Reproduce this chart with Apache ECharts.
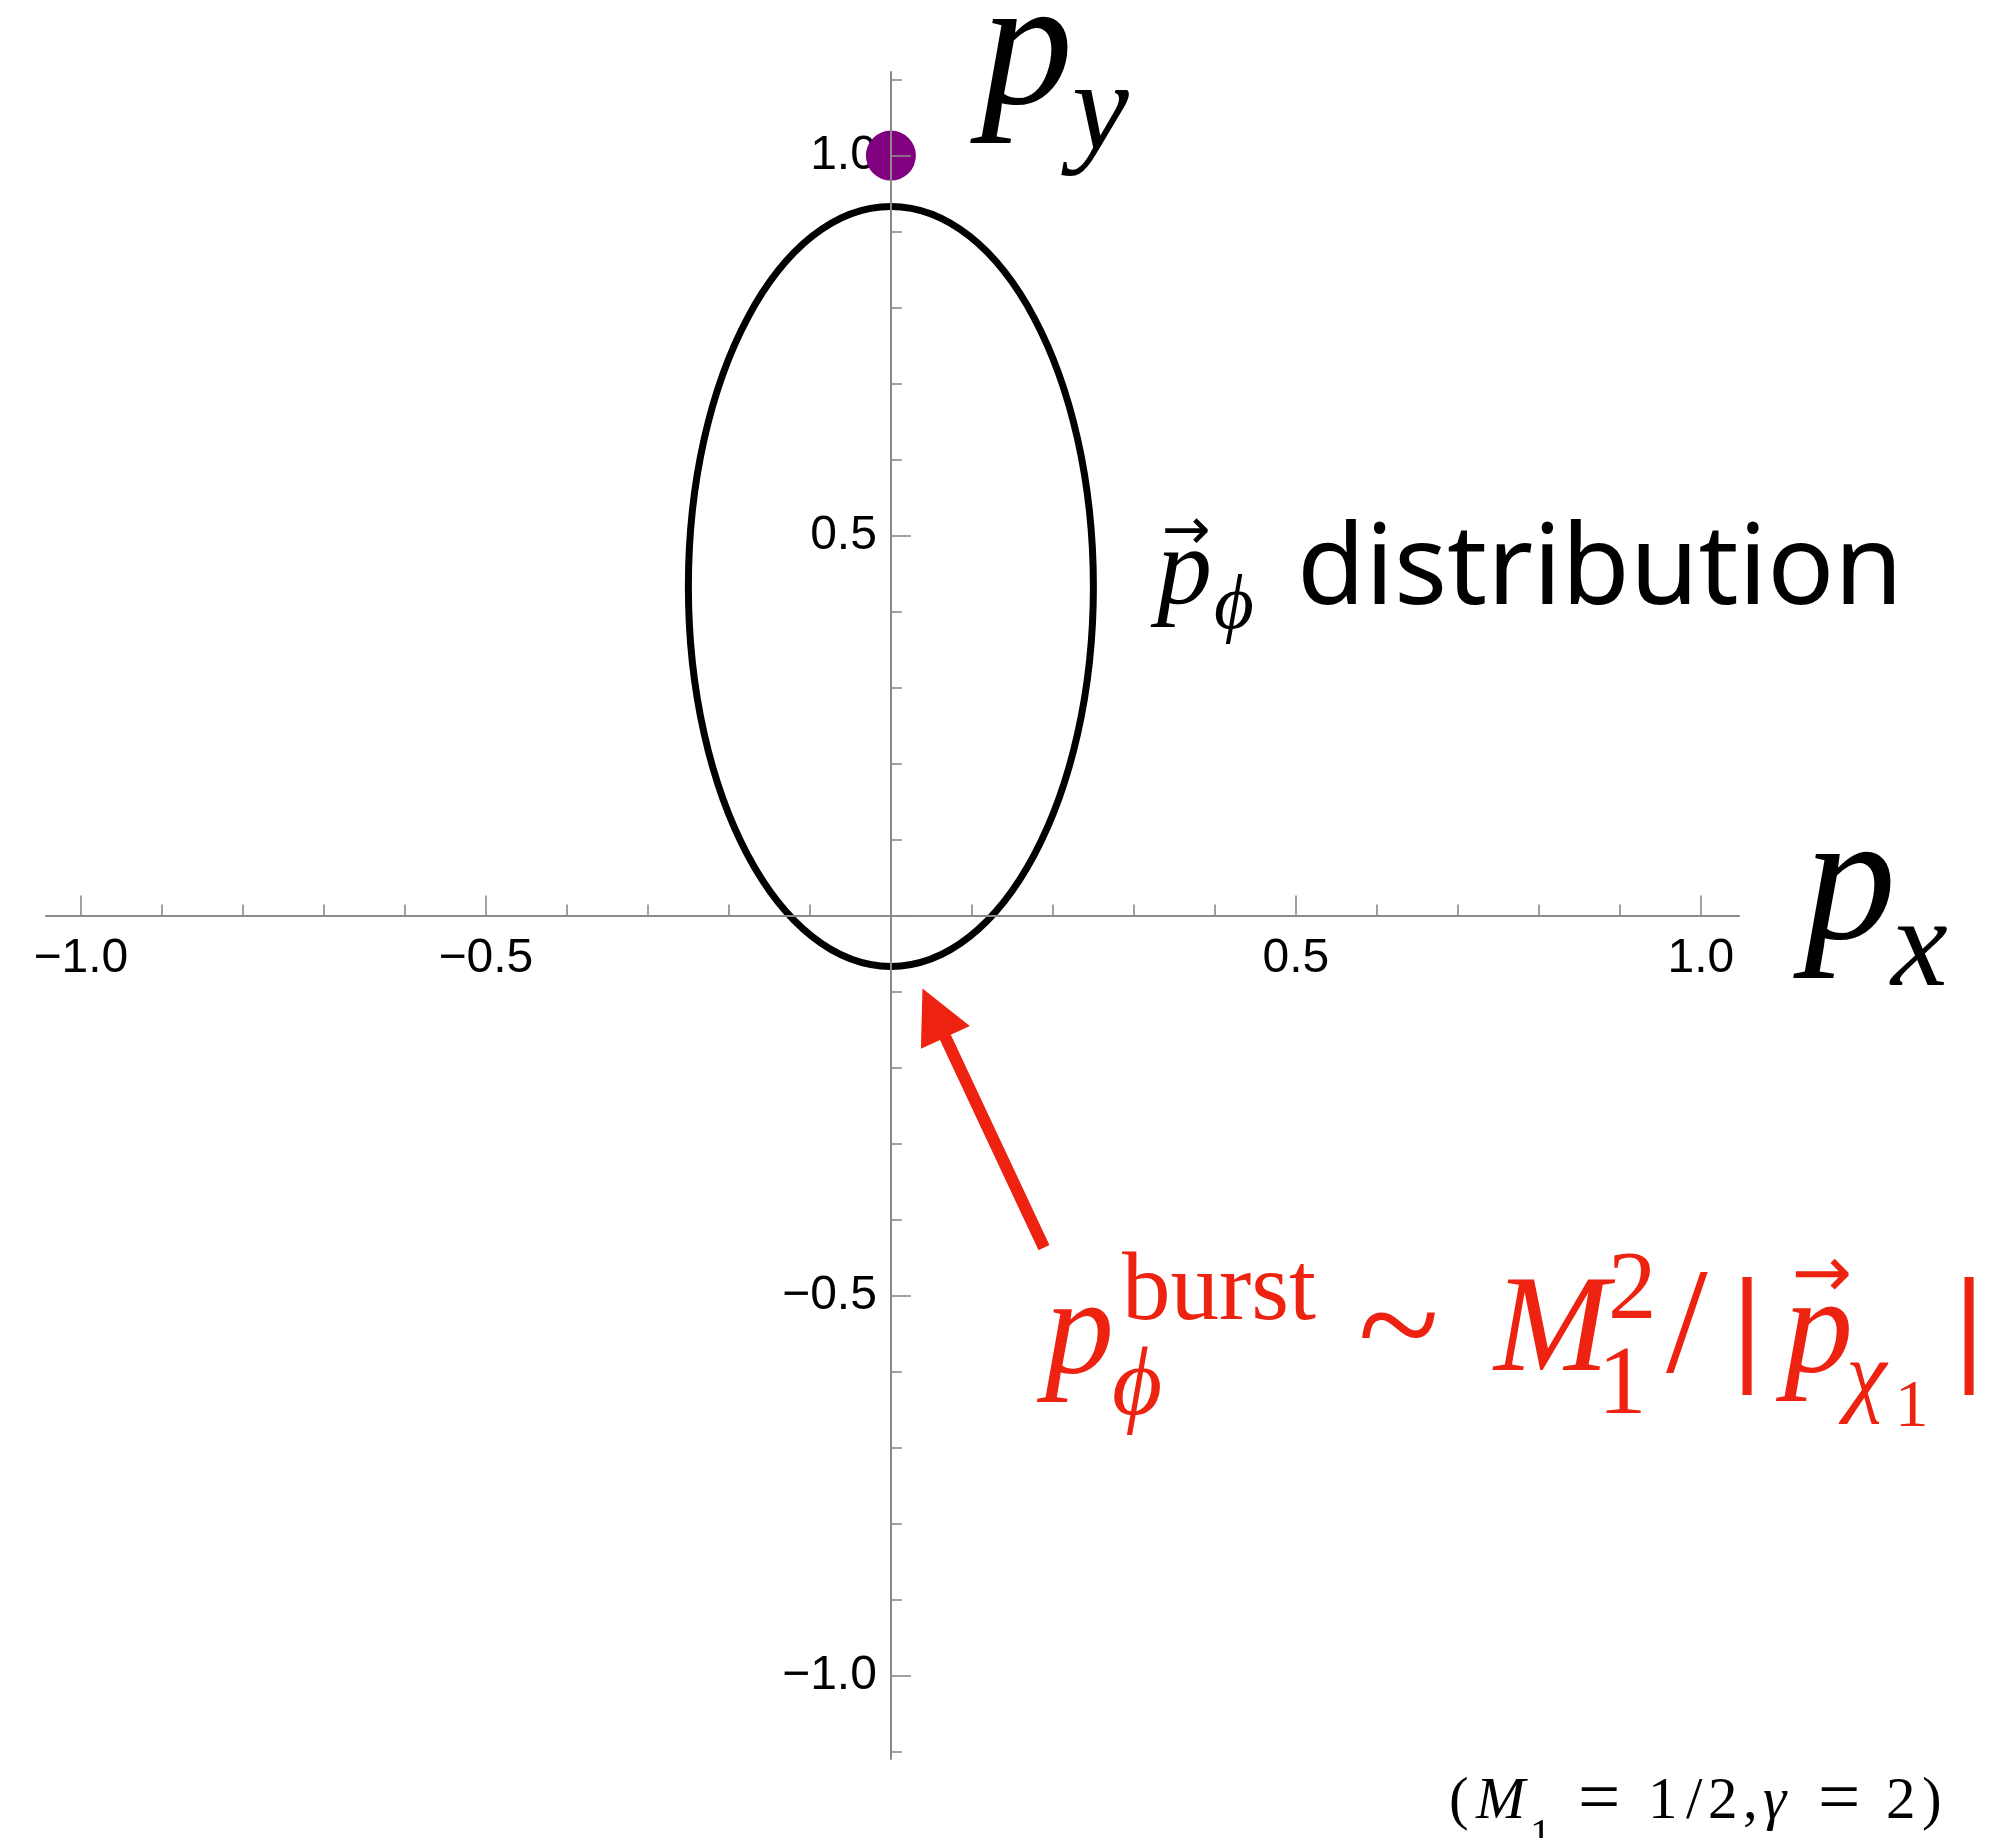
<!DOCTYPE html>
<html>
<head>
<meta charset="utf-8">
<script src="https://cdn.jsdelivr.net/npm/echarts/dist/echarts.min.js"></script>
<style>
  html, body { margin: 0; padding: 0; background: #ffffff; }
  #chart { width: 1993px; height: 1838px; }
</style>
</head>
<body>
<div id="chart"></div>
<script>
// Axis ranges and tick values
const xRange = [-1.043, 1.047];
const yRange = [-1.11, 1.11];
const majorTicks = [-1, -0.5, 0, 0.5, 1];
const tickLabels = [-1, -0.5, 0.5, 1];

// Momentum distribution ellipse: [center px, center py, semi-axis x, semi-axis y]
const distributionEllipse = [[0, 0.433, 0.25, 0.5]];
// Parent particle momentum
const chiPoint = [[0, 1.0]];
// Annotation arrow: [tail px, tail py, tip px, tip py]
const burstArrow = [[0.189, -0.437, 0.039, -0.096]];

const SERIF = "'Liberation Serif','Times New Roman','DejaVu Serif',serif";
const SANS = "'Liberation Sans',Arial,sans-serif";
const WIDE_SANS = "'Noto Sans','Liberation Sans',sans-serif";
const ARROWFONT = "'DejaVu Sans',sans-serif";
const RED = '#ee2211';
const AXIS_GRAY = '#8a8a8a';

// plot area
const GRID = { left: 46, top: 72, width: 1693, height: 1687 };
// axes cross at the origin: shift each axis from its grid edge to zero
const xAxisOffset = -GRID.height * (0 - yRange[0]) / (yRange[1] - yRange[0]);
const yAxisOffset = -GRID.width * (0 - xRange[0]) / (xRange[1] - xRange[0]);

function fmt(v) {
  return (v < 0 ? '\u2212' : '') + Math.abs(v).toFixed(1);
}
function isLabelled(v) {
  return tickLabels.some(t => Math.abs(t - v) < 1e-9);
}

// text piece placed by its baseline
function piece(text, x, baseline, size, o) {
  o = o || {};
  const fam = o.family || (o.sans ? SANS : SERIF);
  const k = o.k != null ? o.k : (o.sans ? 0.28 : 0.2575);
  const y = o.center != null ? o.center : baseline - k * size;
  const align = o.align || 'left';
  return {
    type: 'text', x: x, y: y, z: 10,
    style: {
      text: text,
      font: (o.weight ? o.weight + ' ' : '') + (o.italic ? 'italic ' : '') + size + 'px ' + fam,
      fill: o.color || '#000',
      textAlign: align, textVerticalAlign: 'middle',
      align: align, verticalAlign: 'middle'
    }
  };
}

const texts = [
  // axis names
  piece('p', 981, 103, 184, { italic: true }),
  piece('y', 1072, 148, 128, { italic: true }),
  piece('p', 1804, 938, 184, { italic: true }),
  piece('x', 1891, 984, 128, { italic: true }),

  // distribution label
  piece('\u2192', 1186, 0, 58, { family: ARROWFONT, align: 'center', center: 534 }),
  piece('p', 1157, 603, 110, { italic: true }),
  piece('\u03d5', 1214, 628, 77, { italic: true }),
  piece('distribution', 1297, 605, 111, { family: WIDE_SANS, k: 0.29 }),

  // burst momentum formula
  piece('p', 1045, 1372, 138, { italic: true, color: RED }),
  piece('burst', 1122, 1319, 97, { color: RED }),
  piece('\u03d5', 1112, 1413, 97, { italic: true, color: RED }),
  piece('~', 1358, 1374, 150, { color: RED }),
  piece('M', 1494, 1369, 138, { italic: true, color: RED }),
  piece('2', 1608, 1318, 97, { color: RED }),
  piece('1', 1598, 1413, 97, { color: RED }),
  piece('/', 1666, 1371, 150, { color: RED }),
  piece('|', 1747, 0, 130, { color: RED, align: 'center', center: 1333, weight: 'bold' }),
  piece('\u2192', 1822, 0, 72, { family: ARROWFONT, align: 'center', center: 1278, color: RED }),
  piece('p', 1784, 1371, 138, { italic: true, color: RED }),
  piece('\u03c7', 1846, 1405, 92, { italic: true, color: RED }),
  piece('1', 1895, 1426, 67, { color: RED }),
  piece('|', 1969, 0, 130, { color: RED, align: 'center', center: 1333, weight: 'bold' }),

  // parameters
  piece('(', 1449, 1818, 59),
  piece('M', 1476, 1818, 59, { italic: true }),
  piece('1', 1530, 1848, 42),
  piece('=', 1578, 1821, 75),
  piece('1', 1648, 1818, 59),
  piece('/', 1686, 1818, 59),
  piece('2', 1708, 1818, 59),
  piece(',', 1743, 1818, 59),
  piece('\u03b3', 1763, 1818, 59, { italic: true }),
  piece('=', 1818, 1821, 75),
  piece('2', 1886, 1818, 59),
  piece(')', 1922, 1818, 59)
];

const chart = echarts.init(document.getElementById('chart'), null, { renderer: 'canvas' });

const labelStyle = { fontFamily: SANS, fontSize: 48, color: '#000' };

chart.setOption({
  animation: false,
  backgroundColor: '#ffffff',
  grid: Object.assign({ containLabel: false, outerBoundsMode: 'none' }, GRID),
  xAxis: {
    type: 'value', min: xRange[0], max: xRange[1], z: 3,
    position: 'bottom', offset: xAxisOffset,
    axisLine: { show: true, onZero: false, lineStyle: { color: AXIS_GRAY, width: 2 } },
    axisTick: { show: true, inside: true, length: 20, customValues: majorTicks,
      lineStyle: { color: AXIS_GRAY, width: 1.6 } },
    minorTick: { show: true, splitNumber: 5, length: 11, lineStyle: { color: AXIS_GRAY, width: 1.6 } },
    splitLine: { show: false },
    axisLabel: Object.assign({ margin: 19, customValues: tickLabels,
      formatter: v => (isLabelled(v) ? fmt(v) : '') }, labelStyle)
  },
  yAxis: [
    {
      // labels only, drawn beneath the marks
      type: 'value', min: yRange[0], max: yRange[1], position: 'left', offset: yAxisOffset, z: 0,
      axisLine: { show: false, onZero: false },
      axisTick: { show: false },
      minorTick: { show: false },
      splitLine: { show: false },
      axisLabel: Object.assign({ margin: 14, customValues: tickLabels,
        formatter: v => (isLabelled(v) ? fmt(v) : '') }, labelStyle)
    },
    {
      // axis line and ticks, drawn above the marks
      type: 'value', min: yRange[0], max: yRange[1], position: 'left', offset: yAxisOffset, z: 3,
      axisLine: { show: true, onZero: false, lineStyle: { color: AXIS_GRAY, width: 2 } },
      axisTick: { show: true, inside: true, length: 20, customValues: majorTicks,
        lineStyle: { color: AXIS_GRAY, width: 1.6 } },
      minorTick: { show: true, splitNumber: 5, length: 11, lineStyle: { color: AXIS_GRAY, width: 1.6 } },
      splitLine: { show: false },
      axisLabel: { show: false }
    }
  ],
  series: [
    {
      type: 'custom', name: 'distribution', clip: false, z: 2,
      data: distributionEllipse,
      encode: { x: 0, y: 1 },
      renderItem: (params, api) => {
        const c = api.coord([api.value(0), api.value(1)]);
        const s = api.size([api.value(2), api.value(3)]);
        return {
          type: 'ellipse',
          shape: { cx: c[0], cy: c[1], rx: s[0], ry: s[1] },
          style: { fill: 'none', stroke: '#000', lineWidth: 7 }
        };
      }
    },
    {
      type: 'scatter', name: 'chi', z: 2,
      data: chiPoint,
      symbol: 'circle', symbolSize: 50,
      itemStyle: { color: '#800080', opacity: 1 }
    },
    {
      type: 'custom', name: 'arrow', clip: false, z: 2,
      data: burstArrow,
      encode: { x: [0, 2], y: [1, 3] },
      renderItem: (params, api) => {
        const a = api.coord([api.value(0), api.value(1)]);
        const b = api.coord([api.value(2), api.value(3)]);
        const dx = b[0] - a[0], dy = b[1] - a[1];
        const len = Math.hypot(dx, dy);
        const ux = dx / len, uy = dy / len;
        const nx = -uy, ny = ux;
        const w = 6, headLen = 54, headHalf = 27;
        const bx = b[0] - ux * headLen, by = b[1] - uy * headLen;
        return {
          type: 'polygon',
          shape: { points: [
            [a[0] + nx * w, a[1] + ny * w],
            [bx + nx * w, by + ny * w],
            [bx + nx * headHalf, by + ny * headHalf],
            [b[0], b[1]],
            [bx - nx * headHalf, by - ny * headHalf],
            [bx - nx * w, by - ny * w],
            [a[0] - nx * w, a[1] - ny * w]
          ] },
          style: { fill: RED, stroke: null }
        };
      }
    }
  ],
  graphic: { elements: texts }
});
</script>
</body>
</html>
